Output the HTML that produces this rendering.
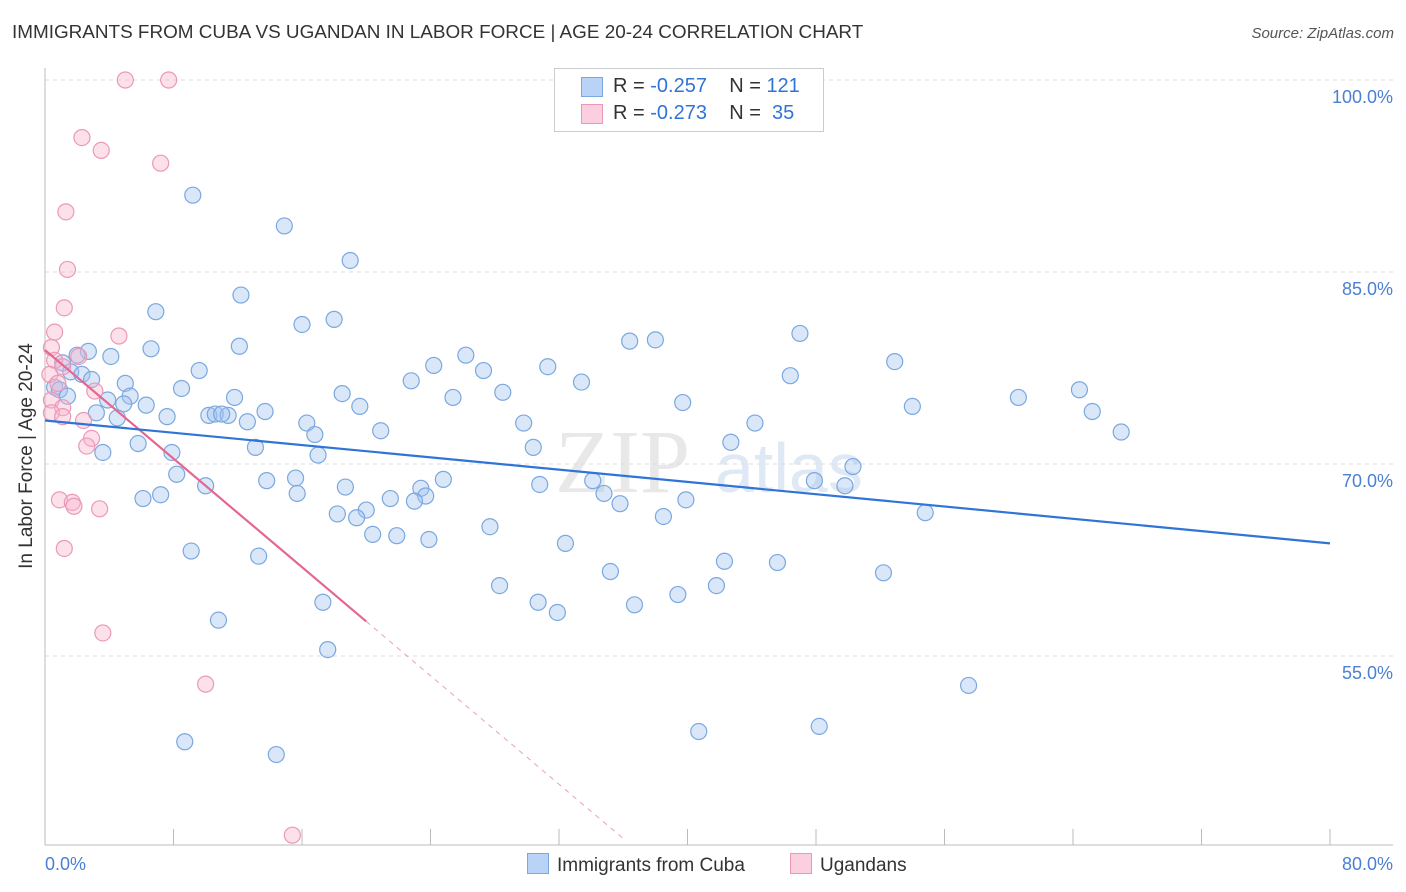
<!DOCTYPE html>
<html><head><meta charset="utf-8"><style>
body{margin:0;background:#fff;font-family:"Liberation Sans",sans-serif;}
#wrap{position:relative;width:1406px;height:892px;overflow:hidden;}
.t{position:absolute;white-space:nowrap;}
</style></head><body>
<div id="wrap">
<div class="t" style="left:12px;top:22px;font-size:18.9px;color:#333;">IMMIGRANTS FROM CUBA VS UGANDAN IN LABOR FORCE | AGE 20-24 CORRELATION CHART</div>
<div class="t" style="right:12px;top:25px;font-size:15px;color:#555;font-style:italic;">Source: ZipAtlas.com</div>
<div class="t" style="left:27px;top:456px;font-size:19px;color:#333;transform:translate(-50%,-50%) rotate(-90deg);">In Labor Force | Age 20-24</div>
<svg id="svg" width="1406" height="892" style="position:absolute;left:0;top:0"></svg>
</div>
<script>
const blueX=[9.2,14.9,19.0,12.2,6.9,16.0,18.0,47.0,36.4,38.0,6.6,12.1,2.7,2.0,4.1,26.2,52.9,24.2,31.3,27.3,9.6,1.1,1.6,2.3,2.9,46.4,22.8,33.4,5.0,0.6,0.9,64.4,8.5,5.3,1.4,18.5,28.5,11.8,25.4,60.6,3.9,4.9,6.3,39.7,54.0,19.6,3.2,13.7,65.2,10.2,10.6,11.4,11.0,7.6,4.5,12.6,16.3,29.8,44.2,20.9,67.0,16.8,42.7,5.8,13.1,30.4,3.6,7.9,17.0,50.3,8.2,15.6,13.8,24.8,34.1,47.9,49.8,10.0,30.8,18.7,23.4,15.7,34.8,23.7,7.2,6.1,21.5,23.0,39.9,35.8,20.0,18.2,19.4,38.5,54.8,27.7,20.4,21.9,23.9,32.4,9.1,13.3,42.3,45.6,35.2,52.2,28.3,41.8,17.3,39.4,30.7,31.9,36.7,10.8,17.6,57.5,48.2,40.7,8.7,14.4];
const blueY=[91.0,88.6,85.9,83.2,81.9,80.9,81.3,80.2,79.6,79.7,79.0,79.2,78.8,78.5,78.4,78.5,78.0,77.7,77.6,77.3,77.3,77.9,77.2,77.0,76.6,76.9,76.5,76.4,76.3,76.0,75.8,75.8,75.9,75.3,75.3,75.5,75.6,75.2,75.2,75.2,75.0,74.7,74.6,74.8,74.5,74.5,74.0,74.1,74.1,73.8,73.9,73.8,73.9,73.7,73.6,73.3,73.2,73.2,73.2,72.6,72.5,72.3,71.7,71.6,71.3,71.3,70.9,70.9,70.7,69.8,69.2,68.9,68.7,68.8,68.7,68.7,68.3,68.3,68.4,68.2,68.1,67.7,67.7,67.5,67.6,67.3,67.3,67.1,67.2,66.9,66.4,66.1,65.8,65.9,66.2,65.1,64.5,64.4,64.1,63.8,63.2,62.8,62.4,62.3,61.6,61.5,60.5,60.5,59.2,59.8,59.2,58.4,59.0,57.8,55.5,52.7,49.5,49.1,48.3,47.3];
const pinkX=[5.0,7.7,2.3,3.5,7.2,1.3,1.4,1.2,0.6,4.6,0.4,2.1,0.6,1.1,0.3,0.8,3.1,0.4,1.1,0.4,1.1,2.4,2.9,2.6,0.9,1.7,1.8,3.4,1.2,3.6,10.0,15.4];
const pinkY=[100.0,100.0,95.5,94.5,93.5,89.7,85.2,82.2,80.3,80.0,79.1,78.4,78.1,77.6,77.0,76.3,75.7,75.0,74.4,74.0,73.7,73.4,72.0,71.4,67.2,67.0,66.7,66.5,63.4,56.8,52.8,41.0];
const blueTrend=[73.4,63.8]; // y at x=0, x=80
const pinkTrend=[78.9,57.7];  // y at x=0, x=20
const pinkDashEnd=36.1;
const xTicks=[8,16,24,32,40,48,56,64,72,80];
const yTicks=[100,85,70,55];

const X=v=>45+v*16.0625, Y=v=>80+(100-v)*12.8;
const svg=document.getElementById('svg');
const NS='http://www.w3.org/2000/svg';
function mk(tag,a){const e=document.createElementNS(NS,tag);for(const k in a)e.setAttribute(k,a[k]);svg.appendChild(e);return e;}
let wm=mk('text',{x:555,y:492,'font-size':90,fill:'#e8e8e8','font-family':'Liberation Serif, serif'});wm.textContent='ZIP';


let wm2=mk('text',{x:715,y:492,'font-size':70,fill:'#dfe8f5','font-family':'Liberation Sans, sans-serif'});wm2.textContent='atlas';


yTicks.forEach(t=>{
 const l=mk('line',{x1:45,x2:1393,y1:Y(t),y2:Y(t),stroke:'#ddd','stroke-dasharray':'4 4'});
 
 
 const tx=mk('text',{x:1393,y:Y(t)+23,'text-anchor':'end','font-size':18,fill:'#4a7fd4','font-family':'Liberation Sans, sans-serif'});
 tx.textContent=t.toFixed(1)+'%';
 
 
});
mk('line',{x1:45,x2:45,y1:68,y2:845,stroke:'#bbb'});
mk('line',{x1:45,x2:1393,y1:845,y2:845,stroke:'#bbb'});
xTicks.forEach(t=>{
 const l=mk('line',{x1:X(t),x2:X(t),y1:829,y2:845,stroke:'#bbb'});
 
 
});
[[0,'0.0%',45,'start'],[80,'80.0%',1393,'end']].forEach(a=>{
 const tx=mk('text',{x:a[2],y:870,'text-anchor':a[3],'font-size':18,fill:'#4a7fd4','font-family':'Liberation Sans, sans-serif'});
 tx.textContent=a[1];
 
 
});
blueX.forEach((x,i)=>{
 const c=mk('circle',{cx:X(x),cy:Y(blueY[i]),r:8,fill:'rgba(160,196,240,0.4)',stroke:'#7aa8e0','stroke-width':1.2});
 
 
});
pinkX.forEach((x,i)=>{
 const c=mk('circle',{cx:X(x),cy:Y(pinkY[i]),r:8,fill:'rgba(248,180,205,0.4)',stroke:'#eb98b6','stroke-width':1.2});
 
 
});
const slope=(pinkTrend[1]-pinkTrend[0])/20;
let pd=mk('line',{x1:X(20),y1:Y(pinkTrend[1]),x2:X(pinkDashEnd),y2:Y(pinkTrend[0]+slope*pinkDashEnd),stroke:'#e9a0b8','stroke-width':1,'stroke-dasharray':'5 5'});


let pl=mk('line',{x1:X(0),y1:Y(pinkTrend[0]),x2:X(20),y2:Y(pinkTrend[1]),stroke:'#e56690','stroke-width':2.2});


let bl=mk('line',{x1:X(0),y1:Y(blueTrend[0]),x2:X(80),y2:Y(blueTrend[1]),stroke:'#2f74d6','stroke-width':2.2});


</script>
<div style="position:absolute;left:554px;top:68px;width:268px;height:62px;border:1px solid #ccc;background:#fff;font-size:20px;color:#333;">
 <div style="position:absolute;left:26px;top:8px;width:20px;height:18px;background:#b8d3f5;border:1px solid #7aa8e0"></div>
 <div class="t" style="left:58px;top:6px">R = <span style="color:#2f74d6">-0.257</span>&nbsp;&nbsp;&nbsp; N = <span style="color:#2f74d6">121</span></div>
 <div style="position:absolute;left:26px;top:35px;width:20px;height:18px;background:#fbcfe0;border:1px solid #eb98b6"></div>
 <div class="t" style="left:58px;top:33px">R = <span style="color:#2f74d6">-0.273</span>&nbsp;&nbsp;&nbsp; N = &nbsp;<span style="color:#2f74d6">35</span></div>
</div>
<div style="position:absolute;left:527px;top:853px;font-size:19px;color:#333;">
 <span style="display:inline-block;width:20px;height:19px;background:#b8d3f5;border:1px solid #7aa8e0;vertical-align:-3px;margin-right:8px"></span>Immigrants from Cuba</div>
<div style="position:absolute;left:790px;top:853px;font-size:19px;color:#333;">
 <span style="display:inline-block;width:20px;height:19px;background:#fbcfe0;border:1px solid #eb98b6;vertical-align:-3px;margin-right:8px"></span>Ugandans</div>
</body></html>
